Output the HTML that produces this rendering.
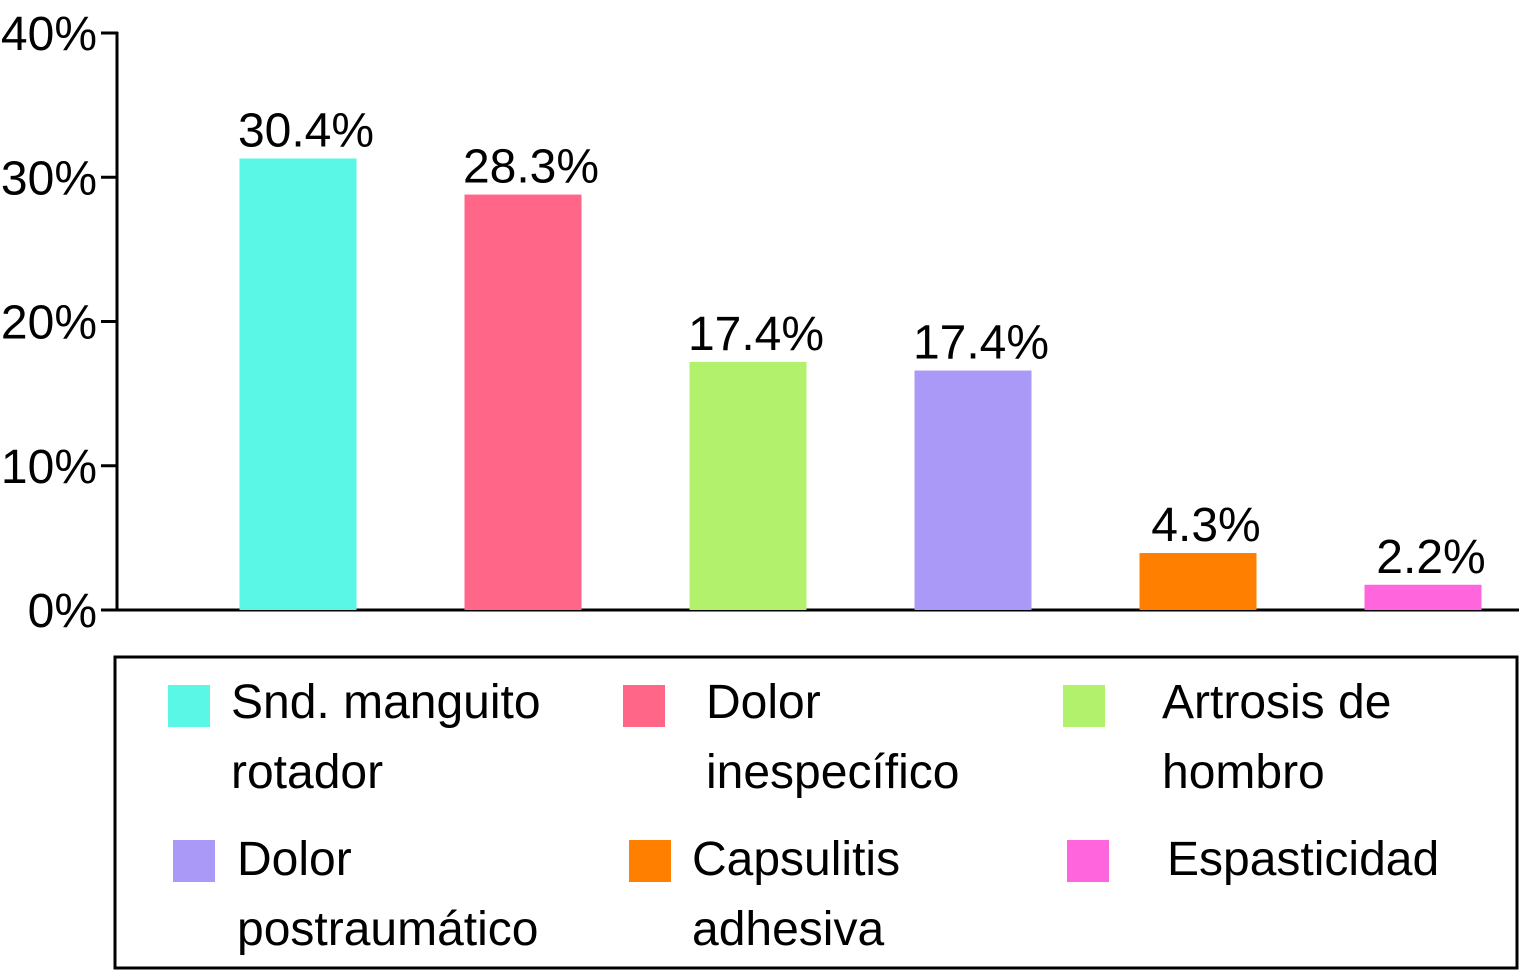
<!DOCTYPE html>
<html><head><meta charset="utf-8"><style>
body{margin:0;background:#fff;}
svg{display:block;font-family:"Liberation Sans",sans-serif;}
</style></head><body>
<svg id="chart" width="1521" height="972">
<g id="axes"></g><g id="bars"></g><g id="legend"></g>
</svg>
<script>
const categories=["Snd. manguito rotador","Dolor inespecífico","Artrosis de hombro","Dolor postraumático","Capsulitis adhesiva","Espasticidad"];
const values=[31.3,28.8,17.2,16.6,3.95,1.75];
const valueLabels=["30.4%","28.3%","17.4%","17.4%","4.3%","2.2%"];
const colors=["#5af7e6","#ff6688","#b1f16c","#aa99f6","#ff8000","#ff66dd"];
const yTicks=[0,10,20,30,40];
const yTickLabels=["0%","10%","20%","30%","40%"];
const legendLines=[["Snd. manguito","rotador"],["Dolor","inespecífico"],["Artrosis de","hombro"],["Dolor","postraumático"],["Capsulitis","adhesiva"],["Espasticidad"]];

const NS="http://www.w3.org/2000/svg";
function mk(t,a,p){const e=document.createElementNS(NS,t);for(const k in a)e.setAttribute(k,a[k]);p.appendChild(e);return e;}
const y=v=>610-v*(577/40);
const x=i=>298+i*225;
const bw=117;
const axes=document.getElementById('axes'),bars=document.getElementById('bars'),leg=document.getElementById('legend');
const ya=mk('line',{x1:117,y1:32,x2:117,y2:611,stroke:'#000','stroke-width':3},axes);


const xa=mk('line',{x1:116,y1:610,x2:1519,y2:610,stroke:'#000','stroke-width':3},axes);


yTicks.forEach((t,i)=>{
 const tk=mk('line',{x1:101,y1:y(t),x2:118,y2:y(t),stroke:'#000','stroke-width':3},axes);
 
 
 const tl=mk('text',{x:97,y:y(t)+17,'text-anchor':'end','font-size':48},axes);
 tl.textContent=yTickLabels[i];
 
 
});
values.forEach((v,i)=>{
 const r=mk('rect',{x:x(i)-bw/2,y:y(v),width:bw,height:610-y(v),fill:colors[i]},bars);
 
 
 const t=mk('text',{x:x(i)+8,y:y(v)-12,'text-anchor':'middle','font-size':48},bars);
 t.textContent=valueLabels[i];
 
 
});
const box=mk('rect',{x:115,y:657,width:1402,height:311,fill:'none',stroke:'#000','stroke-width':3},leg);


const sw=[[168,685],[623,685],[1063,685],[173,840],[629,840],[1067,840]];
const tx=[[231,718],[706,718],[1162,718],[237,875],[692,875],[1167,875]];
categories.forEach((c,i)=>{
 const s=mk('rect',{x:sw[i][0],y:sw[i][1],width:42,height:42,fill:colors[i]},leg);
 
 
 legendLines[i].forEach((ln,j)=>{
  const t=mk('text',{x:tx[i][0],y:tx[i][1]+j*70,'font-size':48},leg);
  t.textContent=ln;
  
  
 });
});
</script>
</body></html>
